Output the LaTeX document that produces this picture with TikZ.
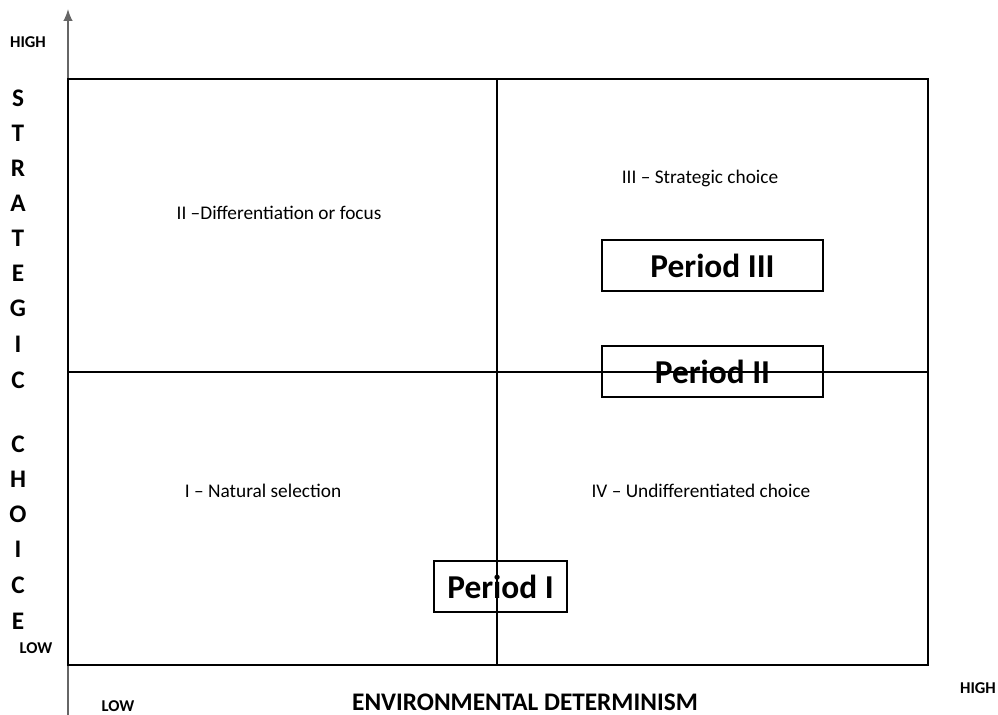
\documentclass[tikz,border=0pt]{standalone}
\usepackage{fontspec}
\setmainfont{Carlito}
\usetikzlibrary{arrows.meta}
\tikzset{
	quadlabel/.style={font=\fontsize{11}{13}\selectfont},
	axislabel/.style={font=\bfseries\fontsize{14.4}{16}\selectfont},
	levellabel/.style={font=\bfseries\fontsize{9.4}{11}\selectfont},
	periodbox/.style={draw, line width=0.35mm, minimum height=1.02cm, inner sep=0pt, font=\bfseries\fontsize{19}{23}\selectfont},
}

\begin{document}
\begin{tikzpicture}[x=0.02cm, y=-0.02cm]
		%%%%% START %%%%%
		\useasboundingbox (0, 0) rectangle (998, 715);
		
		% axis
		\coordinate (axisbot) at (68, 715);
		\coordinate (axistop) at (68, 9);
		\draw[line width=0.3mm, color=black!60, -{Latex[length=2.4mm, width=1.9mm]}] (axisbot) -- (axistop);
		
		\node[quadlabel] (q2) at (279, 213) {II –Differentiation or focus};
		\node[quadlabel] (q3) at (700, 178) {III – Strategic choice};
		\node[quadlabel] (q1) at (263, 491) {I – Natural selection};
		\node[quadlabel] (q4) at (701, 491) {IV – Undifferentiated choice};
		
		% periods
		\node[periodbox, minimum width=4.42cm] (p3) at (712.5, 265.5) {Period III};
		\node[periodbox, minimum width=4.42cm] (p2) at (712.5, 371.5) {Period II};
		\node[periodbox, minimum width=2.66cm] (p1) at (500.5, 586.5) {Period I};
		
		% quadrants (on top of the boxes)
		\draw[line width=0.4mm] (68, 79) rectangle (928, 665);
		\draw[line width=0.4mm] (497, 79) -- (497, 665);
		\draw[line width=0.4mm] (68, 372) -- (928, 372);
		
		% axis labels
		\node[levellabel] (yhigh) at (28, 42) {HIGH};
		\node[levellabel] (ylow) at (36, 648) {LOW};
		\node[levellabel] (xlow) at (118, 706) {LOW};
		\node[levellabel] (xhigh) at (978, 688) {HIGH};
		\node[axislabel] (xname) at (525, 702) {ENVIRONMENTAL DETERMINISM};
		
		\foreach \ch/\yy [count=\i] in {S/98, T/133, R/168, A/203, T/238, E/273, G/308, I/344, C/380, C/444, H/479, O/514, I/549, C/585, E/621}
			\node[axislabel] (yname\i) at (18, \yy) {\ch};
		
		%%%%% END %%%%%
	\end{tikzpicture}
\end{document}
